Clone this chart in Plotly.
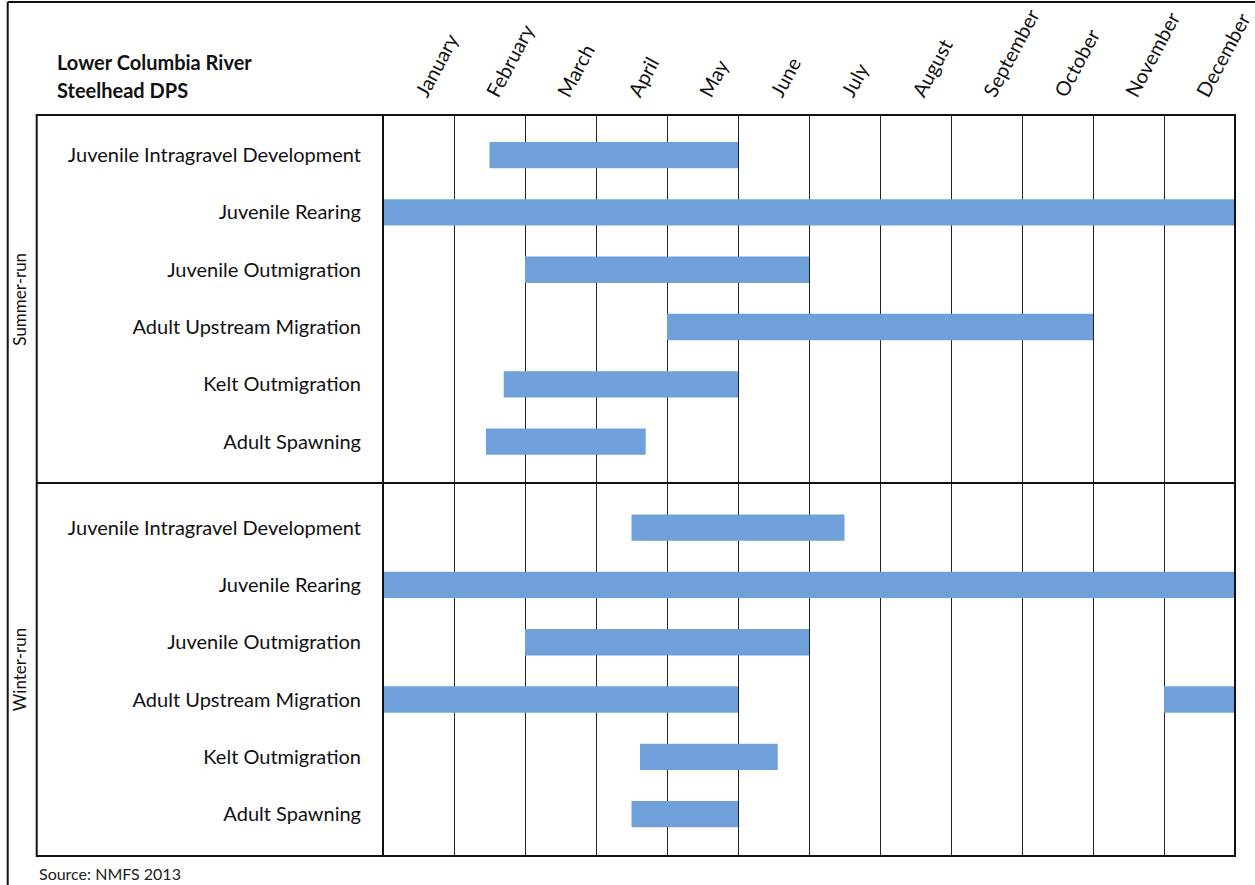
import plotly.graph_objects as go

# ---------------- data ----------------
months = ["January", "February", "March", "April", "May", "June", "July",
          "August", "September", "October", "November", "December"]

activities = ["Juvenile Intragravel Development", "Juvenile Rearing",
              "Juvenile Outmigration", "Adult Upstream Migration",
              "Kelt Outmigration", "Adult Spawning"]

groups = ["Summer-run", "Winter-run"]

# timing in month units (0 = start of January, 12 = end of December)
summer_start = [1.5, 0.0, 2.0, 4.0, 1.7, 1.45]
summer_end = [5.0, 12.0, 6.0, 10.0, 5.0, 3.7]

winter_start = [3.5, 0.0, 2.0, 0.0, 3.62, 3.5]
winter_end = [6.5, 12.0, 6.0, 5.0, 5.56, 5.0]

# second period for winter-run adult upstream migration
winter_extra_activity = ["Adult Upstream Migration"]
winter_extra_start = [11.0]
winter_extra_end = [12.0]

title_lines = ["Lower Columbia River", "Steelhead DPS"]
source_text = "Source: NMFS 2013"

# ---------------- layout constants (pixels) ----------------
W, H = 1255, 885
PL, PR, PT, PB = 382.5, 1235.0, 115.0, 856.0   # plot area
TABLE_LEFT = 36.0
FRAME_LEFT, FRAME_TOP = 7.0, 2.0
FONT = "Lato"
BAR_COLOR = "#6FA0DA"
TEXT_COLOR = "#111111"

def px_x(px):
    return (px - PL) / (PR - PL)

def px_y(py):
    return (PB - py) / (PB - PT)

# row positions (reversed axis): summer rows 0..5, winter rows 6.5..11.5
summer_y = [i for i in range(len(activities))]
winter_y = [i + 6.5 for i in range(len(activities))]
divider_y = 5.72
y_range = [12.23, -0.70]

fig = go.Figure()

def add_bars(ys, starts, ends):
    fig.add_trace(go.Bar(
        orientation="h",
        y=ys,
        base=starts,
        x=[e - s for s, e in zip(starts, ends)],
        width=0.46,
        marker=dict(color=BAR_COLOR, line=dict(width=0)),
        hoverinfo="skip", showlegend=False,
    ))

add_bars(summer_y, summer_start, summer_end)
add_bars(winter_y, winter_start, winter_end)
add_bars([winter_y[activities.index(a)] for a in winter_extra_activity],
         winter_extra_start, winter_extra_end)

fig.update_layout(
    width=W, height=H, autosize=False,
    margin=dict(l=PL, r=W - PR, t=PT, b=H - PB, pad=0, autoexpand=False),
    paper_bgcolor="white", plot_bgcolor="white",
    barmode="overlay",
    font=dict(family=FONT, color=TEXT_COLOR),
    xaxis=dict(
        range=[0, 12], side="top",
        automargin=False,
        tickmode="array",
        tickvals=[i + 0.5 for i in range(12)],
        ticktext=months,
        tickangle=-62,
        tickfont=dict(size=20, family=FONT, color=TEXT_COLOR),
        showgrid=False, zeroline=False, showline=False, ticks="",
        ticklabelstandoff=6,
        ticklabeloverflow="allow",
        minor=dict(tickmode="linear", tick0=0, dtick=1, showgrid=True,
                   gridcolor="#222222", gridwidth=1, ticks=""),
        fixedrange=True,
    ),
    yaxis=dict(
        range=y_range,
        automargin=False,
        tickmode="array",
        tickvals=summer_y + winter_y,
        ticktext=activities + activities,
        tickfont=dict(size=20, family=FONT, color=TEXT_COLOR),
        showgrid=False, zeroline=False, showline=False, ticks="",
        ticklabelstandoff=21,
        fixedrange=True,
    ),
)

line_dark = dict(color="#111111", width=2)
shapes = [
    # table outline
    dict(type="rect", xref="paper", yref="paper",
         x0=px_x(TABLE_LEFT), x1=1, y0=0, y1=1, line=line_dark, layer="above"),
    # label column separator
    dict(type="line", xref="paper", yref="paper",
         x0=0, x1=0, y0=0, y1=1, line=line_dark, layer="above"),
    # summer / winter divider
    dict(type="line", xref="paper", yref="y",
         x0=px_x(TABLE_LEFT), x1=1, y0=divider_y, y1=divider_y,
         line=line_dark, layer="above"),
    # outer frame (top and left)
    dict(type="line", xref="paper", yref="paper",
         x0=px_x(FRAME_LEFT), x1=px_x(W + 5), y0=px_y(FRAME_TOP), y1=px_y(FRAME_TOP),
         line=line_dark, layer="above"),
    dict(type="line", xref="paper", yref="paper",
         x0=px_x(FRAME_LEFT), x1=px_x(FRAME_LEFT), y0=px_y(FRAME_TOP), y1=px_y(H + 5),
         line=line_dark, layer="above"),
]
fig.update_layout(shapes=shapes)

annotations = [
    dict(text="<b>%s</b>" % title_lines[0], xref="paper", yref="paper",
         x=px_x(54), y=px_y(62), xanchor="left", yanchor="middle",
         showarrow=False, font=dict(size=20, family=FONT, color=TEXT_COLOR)),
    dict(text="<b>%s</b>" % title_lines[1], xref="paper", yref="paper",
         x=px_x(54), y=px_y(90), xanchor="left", yanchor="middle",
         showarrow=False, font=dict(size=20, family=FONT, color=TEXT_COLOR)),
    dict(text=groups[0], xref="paper", yref="y",
         x=px_x(19), y=(y_range[1] + divider_y) / 2, xanchor="center", yanchor="middle",
         textangle=-90, showarrow=False, font=dict(size=17, family=FONT, color=TEXT_COLOR)),
    dict(text=groups[1], xref="paper", yref="y",
         x=px_x(19), y=(divider_y + y_range[0]) / 2, xanchor="center", yanchor="middle",
         textangle=-90, showarrow=False, font=dict(size=17, family=FONT, color=TEXT_COLOR)),
    dict(text=source_text, xref="paper", yref="paper",
         x=px_x(36), y=px_y(873), xanchor="left", yanchor="middle",
         showarrow=False, font=dict(size=16, family=FONT, color="#222222")),
]
fig.update_layout(annotations=annotations)

fig.write_html("out.html",
               config={"displayModeBar": False},
               post_script="document.body.style.margin='0px';document.body.style.padding='0px';")
